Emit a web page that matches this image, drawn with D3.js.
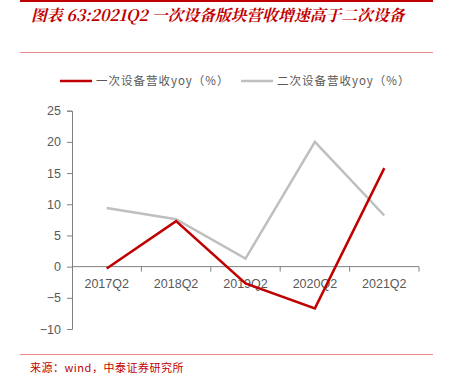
<!DOCTYPE html>
<html>
<head>
<meta charset="utf-8">
<script src="https://cdn.jsdelivr.net/npm/d3@7"></script>
<style>
    body { margin: 0; background: #fff; }
    svg { display: block; }
</style>
</head>
<body>
<div class="viz"></div>
<script>
// chart data
const quarters = ["2017Q2", "2018Q2", "2019Q2", "2020Q2", "2021Q2"];
const primaryYoy = [-0.3, 7.3, -2.7, -6.7, 15.8];
const secondaryYoy = [9.4, 7.6, 1.3, 20.0, 8.2];
const yTicks = [-10, -5, 0, 5, 10, 15, 20, 25];
const seriesNames = ["一次设备营收yoy（%）", "二次设备营收yoy（%）"];

const titleText = "图表 63:2021Q2 一次设备版块营收增速高于二次设备";
const sourceText = "来源：wind，中泰证券研究所";

var width = 450,
    height = 388,
    red = "#c00000",
    grey = "#bfbfbf",
    textGrey = "#595959";

var svg = d3
    .select(".viz")
    .append("svg")
    .attr("width", width)
    .attr("height", height);

// header / footer rules
svg.append("line")
    .attr("x1", 20).attr("x2", 433)
    .attr("y1", 1).attr("y2", 1)
    .attr("stroke", red).attr("stroke-width", 2);

svg.append("text")
    .attr("x", 31)
    .attr("y", 21)
    .attr("fill", red)
    .attr("font-family", "'Noto Serif CJK SC', 'Noto Sans CJK SC', serif")
    .attr("font-style", "italic")
    .attr("font-weight", "bold")
    .attr("font-size", 15.8)
    .text(titleText);

svg.append("line")
    .attr("x1", 20).attr("x2", 433)
    .attr("y1", 52.5).attr("y2", 52.5)
    .attr("stroke", "#e98a8a").attr("stroke-width", 1);

svg.append("line")
    .attr("x1", 20).attr("x2", 433)
    .attr("y1", 354.5).attr("y2", 354.5)
    .attr("stroke", "#e98a8a").attr("stroke-width", 1);

svg.append("text")
    .attr("x", 30)
    .attr("y", 372)
    .attr("fill", red)
    .attr("font-family", "'Noto Sans CJK SC', serif")
    .attr("font-size", 11)
    .attr("letter-spacing", 0.5)
    .text(sourceText);

// legend
var legend = svg.append("g").attr("class", "legend");
var legendItems = [
    { name: seriesNames[0], color: red, x: 60 },
    { name: seriesNames[1], color: grey, x: 241 },
];
legendItems.forEach((d) => {
    legend.append("line")
        .attr("x1", d.x).attr("x2", d.x + 32)
        .attr("y1", 81).attr("y2", 81)
        .attr("stroke", d.color).attr("stroke-width", 2.5);
    legend.append("text")
        .attr("x", d.x + 36)
        .attr("y", 85)
        .attr("fill", textGrey)
        .attr("font-family", "'Noto Sans CJK SC', sans-serif")
        .attr("font-size", 11.5)
        .attr("letter-spacing", 1)
        .text(d.name);
});

// scales
var x = d3.scaleBand().domain(quarters).range([72, 419]);
var y = d3.scaleLinear().domain([-10, 25]).range([329, 110.7]);

// y axis
var yAxis = svg.append("g")
    .attr("transform", "translate(72,0)")
    .call(d3.axisLeft(y).tickValues(yTicks).tickSize(5).tickPadding(6));
yAxis.select(".domain").attr("stroke", "#808080");
yAxis.selectAll(".tick line").attr("stroke", "#808080");
yAxis.selectAll("text")
    .attr("fill", textGrey)
    .attr("font-family", "'Liberation Sans', Arial, sans-serif")
    .attr("font-size", 12.5);

// x axis at zero, ticks on band edges
var xAxis = svg.append("g")
    .attr("transform", `translate(0,${y(0)})`);
xAxis.append("line")
    .attr("x1", 72).attr("x2", 419)
    .attr("y1", 0).attr("y2", 0)
    .attr("stroke", "#808080");
xAxis.selectAll("line.tick")
    .data(quarters.slice(1).map((q) => x(q)).concat([x.range()[1]]))
    .enter()
    .append("line")
    .attr("class", "tick")
    .attr("x1", (d) => d).attr("x2", (d) => d)
    .attr("y1", 0).attr("y2", 5)
    .attr("stroke", "#808080");
xAxis.selectAll("text")
    .data(quarters)
    .enter()
    .append("text")
    .attr("x", (d) => x(d) + x.bandwidth() / 2)
    .attr("y", 21)
    .attr("text-anchor", "middle")
    .attr("fill", textGrey)
    .attr("font-family", "'Liberation Sans', Arial, sans-serif")
    .attr("font-size", 12.5)
    .text((d) => d);

// lines
var line = d3
    .line()
    .x((d, i) => x(quarters[i]) + x.bandwidth() / 2)
    .y((d) => y(d));

svg.append("path")
    .datum(secondaryYoy)
    .attr("d", line)
    .attr("fill", "none")
    .attr("stroke", grey)
    .attr("stroke-width", 2.5);

svg.append("path")
    .datum(primaryYoy)
    .attr("d", line)
    .attr("fill", "none")
    .attr("stroke", red)
    .attr("stroke-width", 2.5);
</script>
</body>
</html>
